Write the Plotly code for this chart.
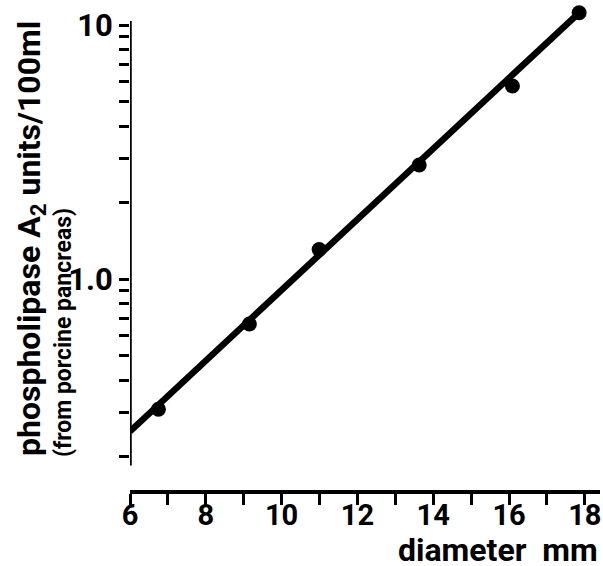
import plotly.graph_objects as go

# data
diameter_mm = [6.75, 9.15, 10.99, 13.63, 16.09, 17.85]
activity = [0.308, 0.667, 1.31, 2.82, 5.77, 11.2]
fit_diameter = [6.0, 17.79]
fit_activity = [0.252, 11.0]

x_ticks = list(range(6, 19))
x_ticklabels = [str(v) if v % 2 == 0 else "" for v in x_ticks]
y_ticks = [0.2, 0.3, 0.4, 0.5, 0.6, 0.7, 0.8, 0.9, 1.0,
           2, 3, 4, 5, 6, 7, 8, 9, 10]
y_ticklabels = ["" for _ in y_ticks]
y_ticklabels[y_ticks.index(1.0)] = "1.0"
y_ticklabels[y_ticks.index(10)] = "10"

FONT = "Roboto, sans-serif"

fig = go.Figure()
fig.add_trace(go.Scatter(x=fit_diameter, y=fit_activity, mode="lines",
                         line=dict(color="black", width=6.5),
                         showlegend=False, hoverinfo="skip"))
fig.add_trace(go.Scatter(x=diameter_mm, y=activity, mode="markers",
                         marker=dict(color="black", size=15),
                         cliponaxis=False, showlegend=False))

ylo, yhi = -0.8295, 1.0996
fig.update_layout(
    width=603, height=566,
    margin=dict(l=130, r=3, t=0, b=76),
    paper_bgcolor="white", plot_bgcolor="white",
    font=dict(family=FONT, color="black", size=30, weight="bold"),
    xaxis=dict(range=[6, 18.4], tickvals=x_ticks, ticktext=x_ticklabels,
               ticks="outside", ticklen=11, tickwidth=3, tickcolor="black",
               showline=True, linewidth=3.5, linecolor="black",
               showgrid=False, zeroline=False, ticklabelstandoff=-15,
               ticklabeloverflow="allow",
               tickfont=dict(size=29, family=FONT, weight="bold")),
    yaxis=dict(type="log", range=[ylo, yhi], tickvals=y_ticks,
               ticktext=y_ticklabels, ticks="outside", ticklen=10,
               tickwidth=3, tickcolor="black", showline=False,
               showgrid=False, zeroline=False, ticklabeloverflow="allow",
               tickfont=dict(size=31, family=FONT, weight="bold")),
)

# left axis line (shorter than plot area)
fig.add_shape(type="line", xref="x", yref="y", x0=6, x1=6,
              y0=0.185, y1=10.4, line=dict(color="black", width=3.5))

fig.add_annotation(text="diameter  mm", xref="paper", yref="paper",
                   x=1.0, y=-0.079, xanchor="right", yanchor="top",
                   showarrow=False,
                   font=dict(size=32, family=FONT, weight="bold"))
fig.add_annotation(text="phospholipase A<sub>2</sub> units/100ml",
                   xref="paper", yref="paper", x=-0.211, y=0.066,
                   xanchor="center", yanchor="bottom", textangle=-90,
                   showarrow=False,
                   font=dict(size=32, family=FONT, weight="bold"))
fig.add_annotation(text="(from porcine pancreas)",
                   xref="paper", yref="paper", x=-0.140, y=0.0625,
                   xanchor="center", yanchor="bottom", textangle=-90,
                   showarrow=False,
                   font=dict(size=23, family=FONT, weight="bold"))

fig.write_html("out.html", config={"displayModeBar": False},
               post_script="document.body.style.margin='0';")
